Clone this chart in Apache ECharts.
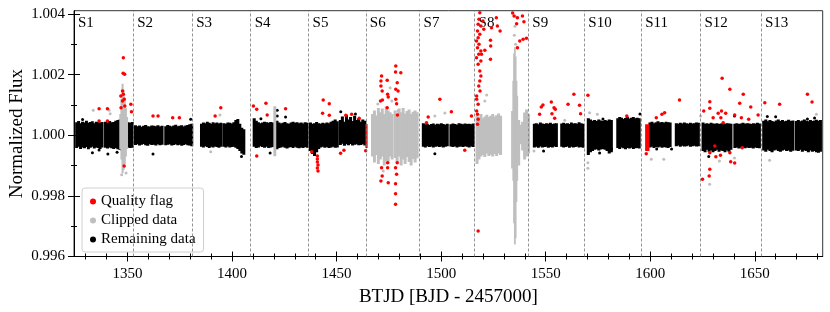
<!DOCTYPE html>
<html><head><meta charset="utf-8">
<script src="https://cdn.jsdelivr.net/npm/echarts@6/dist/echarts.min.js"></script>
<style>html,body{margin:0;padding:0;background:#fff}#c{width:830px;height:312px}</style>
</head><body><div id="c"></div>
<script>
// ---------- DATA (flux values as ppm offsets from 1.000) ----------
const xMajorTicks = [1350, 1400, 1450, 1500, 1550, 1600, 1650];
const xMinorTicks = [1330,1340,1360,1370,1380,1390,1410,1420,1430,1440,1460,1470,1480,1490,1510,1520,1530,1540,1560,1570,1580,1590,1610,1620,1630,1640,1660,1670,1680];
const yMajorTicks = [0.996, 0.998, 1.000, 1.002, 1.004];
const yMinorTicks = [0.997, 0.999, 1.001, 1.003];
const sectorNames = ['S1','S2','S3','S4','S5','S6','S7','S8','S9','S10','S11','S12','S13'];
const sectorBoundaries = [1352.7, 1380.9, 1408.9, 1436.6, 1464.0, 1489.7, 1516.0, 1541.7, 1568.5, 1595.7, 1624.0, 1653.0];

// Remaining data: continuous segments [start, end] with per-bin upper/lower envelope (ppm)
const remainingSegments = [[1325.2,1338.3],[1339.0,1352.7],[1353.3,1367.0],[1367.8,1381.2],[1384.9,1395.1],[1395.6,1406.1],
  [1410.1,1420.0],[1421.0,1436.4],[1437.0,1450.8],[1451.3,1464.0],[1491.0,1503.4],[1504.2,1515.8],
  [1544.1,1555.6],[1557.2,1568.3],[1569.9,1581.9],[1584.0,1595.2],[1599.4,1610.0],[1612.0,1623.5],
  [1624.8,1639.1],[1640.0,1652.7],[1653.8,1668.7],[1669.4,1681.9]];
const remainingHigh = [
  [430,470,400,450,420,480,410,440,460,400,450,430,420,440],
  [450,420,470,430,440,480,500,520,540,500,460,430,410,440],
  [330,300,320,280,310,340,300,290,320,310,300,330,290,310],
  [300,340,310,290,320,350,300,310,330,290,320,340,360,380],
  [380,420,400,450,410,380,430,400,420,390,410],
  [400,380,420,410,390,430,500,540,380,250,200],
  [560,480,430,400,420,450,430,410,440,420],
  [480,420,390,410,440,400,380,420,450,410,430,400,420,390,430,410],
  [420,380,400,440,400,380,410,390,420,400,450,480,520,460],
  [500,620,450,680,520,600,470,640,500,560,450,520,480],
  [400,360,380,340,370,390,350,380,360,400,370,350,380],
  [360,390,370,350,400,380,360,390,370,380,360,390],
  [380,400,360,420,390,370,400,380,410,370,390,400],
  [390,410,380,400,370,420,390,400,380,430,400,380],
  [560,520,480,500,470,520,490,470,500,480,520,500],
  [560,600,580,540,570,590,550,580,600,560,580,560],
  [420,450,400,430,460,420,440,410,450,430,420],
  [400,380,410,390,420,400,380,410,390,400,420,410],
  [420,380,400,370,410,390,380,400,370,390,410,380,400,390,380],
  [380,400,370,390,410,380,400,390,370,400,380,410,390],
  [480,520,460,500,470,450,490,520,470,500,460,480,510,470,490],
  [470,500,460,490,520,480,460,500,470,490,510,480,500]];
const remainingLow = [
  [-420,-380,-450,-400,-430,-390,-460,-410,-380,-440,-400,-420,-450,-400],
  [-410,-440,-400,-430,-450,-420,-460,-480,-500,-470,-440,-400,-420,-410],
  [-320,-300,-340,-310,-290,-330,-350,-300,-320,-310,-340,-300,-330,-310],
  [-330,-310,-300,-340,-320,-300,-330,-310,-350,-320,-300,-330,-340,-360],
  [-380,-400,-360,-390,-420,-380,-400,-370,-390,-410,-380],
  [-380,-400,-370,-400,-390,-380,-410,-450,-520,-600,-640],
  [-380,-420,-400,-360,-390,-410,-380,-420,-400,-390],
  [-460,-420,-400,-380,-410,-440,-400,-390,-420,-380,-410,-430,-400,-420,-390,-410],
  [-520,-620,-680,-560,-450,-400,-380,-410,-390,-420,-400,-380,-410,-400],
  [-320,-280,-350,-300,-330,-290,-340,-310,-300,-330,-320,-300,-340],
  [-380,-400,-360,-390,-370,-400,-380,-360,-390,-370,-400,-380,-360],
  [-370,-390,-360,-400,-380,-370,-390,-360,-380,-400,-370,-390],
  [-400,-380,-410,-370,-400,-390,-380,-410,-390,-400,-370,-390],
  [-380,-400,-390,-370,-410,-380,-400,-390,-370,-400,-390,-410],
  [-650,-560,-520,-480,-460,-500,-470,-450,-480,-520,-600,-560],
  [-420,-450,-400,-430,-460,-420,-440,-410,-450,-430,-420,-440],
  [-400,-380,-420,-390,-400,-380,-410,-390,-400,-420,-390],
  [-360,-340,-380,-350,-370,-360,-340,-380,-360,-350,-370,-360],
  [-520,-560,-480,-540,-500,-560,-520,-480,-540,-500,-520,-560,-500,-540,-480],
  [-420,-400,-440,-410,-390,-430,-400,-420,-410,-440,-400,-420,-430],
  [-500,-540,-480,-520,-560,-500,-480,-520,-540,-500,-480,-520,-500,-540,-510],
  [-500,-520,-480,-540,-500,-520,-560,-500,-540,-520,-560,-580,-540]];

// Clipped data segments
const clippedSegments = [[1346.3,1350.0],[1420.0,1420.9],[1466.7,1477.0],[1477.5,1489.0],[1516.7,1528.9],
  [1533.7,1534.3],[1534.3,1536.6],[1536.6,1542.3]];
const clippedHigh = [
  [700,1200,1700,1500,1250,900,600],
  [960],
  [700,820,650,900,760,880,700,950,820,760,700],
  [820,700,880,760,900,720,800,850,700,780,820,760],
  [650,600,700,560,620,680,600,640,700,620,660,720,640],
  [800],
  [1800,2700,2900,2600,1800,1300],
  [500,350,450,750,850,700]];
const clippedLow = [
  [-450,-800,-1250,-1150,-950,-700,-450],
  [-690],
  [-700,-900,-650,-950,-800,-700,-1000,-850,-950,-700,-800],
  [-750,-900,-700,-1000,-800,-950,-720,-880,-1000,-780,-900,-760],
  [-950,-800,-700,-650,-720,-600,-680,-640,-700,-620,-680,-600,-650],
  [-1100],
  [-1500,-2900,-3600,-3400,-2200,-1500],
  [-1000,-300,-500,-800,-700,-600]];

// Quality-flagged continuous blocks
const qualitySegments = [[1464.0,1464.6],[1597.8,1599.4]];
const qualityHigh = [[370],[360]];
const qualityLow = [[-420],[-520]];

// Individual points [time, ppm]
const qualityPoints = [[1348.0,2558],[1347.9,2043],[1348.6,2010],[1347.6,1459],[1348.0,1350],[1346.8,1294],[1348.4,1185],[1347.6,1129],[1348.7,964],[1346.9,908],[1351.6,1020],[1351.9,776],[1336.4,875],[1340.4,875],[1336.4,469],[1340.4,469],[1362.2,634],[1364.6,634],[1371.6,578],[1374.8,578],[1348.4,-1016],[1391.9,634],[1394.6,908],
 [1410.2,964],[1411.8,855],[1416.2,1053],[1416.8,667],[1425.6,875],[1411.8,-686],
 [1443.6,1162],[1446.5,1040],[1443.3,723],[1446.5,657],[1457.2,690],[1454.4,657],[1460.8,558],[1438.1,-545],[1440.8,-686],[1440.8,-785],[1440.8,-884],[1441.1,-983],[1440.8,-1082],[1441.1,-1181],[1451.9,-597],[1453.5,-498],[1463.9,-512],
 [1471.5,1954],[1471.2,1789],[1471.2,1624],[1471.8,1459],[1471.0,1129],[1471.9,1162],[1474.2,1812],[1474.4,1350],[1474.7,1261],[1474.2,908],[1478.3,2284],[1480.7,2063],[1478.2,2086],[1479.0,1733],[1478.3,1515],[1479.4,1459],[1478.3,1185],[1478.7,1040],[1479.1,667],[1471.5,-1073],[1471.8,-1346],[1471.2,-1511],[1474.4,-1073],[1474.7,-1568],[1478.2,-1073],[1478.7,-1290],[1478.2,-1601],[1478.2,-1931],[1478.2,-2280],[1479.0,-908],[1474.4,-908],
 [1499.4,1185],[1493.8,601],[1504.9,776],[1514.5,634],[1511.3,-498],[1493.0,413],
 [1518.5,4043],[1518.1,3825],[1517.7,3660],[1519.0,3604],[1517.4,3439],[1518.5,3330],[1517.7,3218],[1516.9,3109],[1518.1,3000],[1517.4,2888],[1519.0,2779],[1518.0,2670],[1516.9,2558],[1519.0,2449],[1517.7,2340],[1518.5,2119],[1519.0,1954],[1518.5,1789],[1518.0,1624],[1518.6,1459],[1517.0,1294],[1517.0,1185],[1517.7,1020],[1517.0,799],[1517.4,690],[1517.7,525],[1517.4,360],
 [1520.0,3769],[1520.4,3495],[1524.1,3548],[1526.4,3878],[1526.9,3604],[1528.2,3439],[1523.6,3132],[1523.7,2944],[1520.9,2802],[1523.6,2505],[1519.3,2670],[1517.7,-3161],
 [1534.9,3934],[1536.5,3878],[1538.9,3934],[1539.6,3746],[1536.1,3680],[1537.6,3109],[1536.5,2888],[1540.8,3198],[1539.2,3165],[1534.2,4033],
 [1547.1,690],[1547.9,931],[1548.7,997],[1553.0,710],[1552.7,1096],[1554.0,908],[1554.6,855],[1554.3,558],[1560.7,1020],[1563.5,1350],[1566.2,987],[1566.7,710],[1570.2,1317],
 [1588.8,634],[1598.1,-611],[1602.9,578],[1605.6,690],[1606.9,743],[1614.0,1162],
 [1625.6,799],[1628.5,1106],[1628.5,888],[1634.4,1878],[1638.1,1515],[1644.5,1350],[1642.8,1053],[1648.1,931],[1634.1,799],[1632.5,723],[1636.1,723],[1630.1,578],[1633.8,578],[1634.9,413],[1640.4,667],[1643.6,578],[1647.1,525],[1651.6,667],[1644.0,-413],[1628.5,-578],[1630.9,-356],[1631.4,-710],[1633.6,-663],[1638.1,-578],[1638.5,-875],[1640.4,-917],[1628.5,-1125],[1628.2,-1346],[1625.0,-1455],
 [1654.8,1073],[1661.9,1020],[1675.2,1350],[1677.4,1096]];
const clippedPoints = [[1333.6,822],[1341.7,710],[1341.2,822],[1389.8,-545],[1394.2,667],[1349.3,-1247],[1347.2,-1300],[1520.9,1129],[1544.4,-521],[1570.2,-908],[1570.2,-1092],[1600.5,-795],[1606.5,-795],[1574.7,690],[1571.0,743],[1559.1,492],[1657.1,-828],[1628.4,-1620],[1633.1,-851],[1640.3,-752],[1624.1,634],[1679.5,690],[1475.6,1568],[1479.3,799],[1469.7,1030],[1476.4,1129],[1472.3,-1181],[1497.0,634],[1501.8,733],[1521.8,1327],[1535.0,3300],[1535.3,3600],[1535.6,3000],[1536.0,3900]];
const remainingPoints = [[1333.2,-578],[1336.4,-488],[1380.2,525],[1421.6,822],[1421.6,634],[1425.6,601],[1413.8,545],[1362.2,-620],[1340.6,-620],[1418.2,-587],[1497.0,-610],[1575.8,-587],[1581.5,-455],[1595.1,700],[1577.4,535],[1640.3,634],[1662.9,-455],[1678.6,568],[1675.2,535],[1603.1,-455],[1610.2,-455],[1328.5,520],[1345.0,-560],[1404.5,-700],[1452.0,780],[1459.0,700],[1549.0,-520],[1589.0,590],[1656.0,620],[1628.0,-700],[1660.0,610]];

// ---------- BUILD ----------
const toFlux = p => 1 + p * 1e-6;
function buildRects(segs, hi, lo) {
  const out = [];
  segs.forEach((s, i) => {
    const n = hi[i].length, w = (s[1] - s[0]) / n;
    for (let j = 0; j < n; j++) out.push([s[0] + j * w, s[0] + (j + 1) * w, toFlux(lo[i][j]), toFlux(hi[i][j])]);
  });
  return out;
}
const pts = arr => arr.map(p => [p[0], toFlux(p[1])]);

const FONT = 'Liberation Serif';
const X_MIN = 1324.4, X_MAX = 1682.5, Y_MIN = 0.996, Y_MAX = 1.00411;

function bandSeries(name, rects, color, z) {
  return {
    type: 'custom', name, z, silent: true, clip: true,
    itemStyle: { color },
    encode: { x: [0, 1], y: [2, 3] },
    renderItem: (params, api) => {
      const a = api.coord([api.value(0), api.value(3)]);
      const b = api.coord([api.value(1), api.value(2)]);
      return { type: 'rect', shape: { x: a[0] - 0.5, y: a[1], width: Math.max(b[0] - a[0], 0.6) + 1, height: b[1] - a[1] },
        style: { fill: color } };
    },
    data: rects
  };
}

function xAx(ticks, len, inside, labels, extra) {
  return Object.assign({
    type: 'value', min: X_MIN, max: X_MAX, position: 'bottom',
    axisLine: { show: labels, lineStyle: { color: '#000', width: 1 } },
    axisTick: { show: true, inside, length: len, customValues: ticks, lineStyle: { color: '#000', width: 1 } },
    axisLabel: { show: labels, customValues: ticks, fontFamily: FONT, fontSize: 15, color: '#000', margin: 10,
      formatter: v => String(Math.round(v)) },
    splitLine: { show: false }
  }, extra || {});
}
function yAx(ticks, len, inside, labels, extra) {
  return Object.assign({
    type: 'value', min: Y_MIN, max: Y_MAX, position: 'left',
    axisLine: { show: labels, lineStyle: { color: '#000', width: 1 } },
    axisTick: { show: true, inside, length: len, customValues: ticks, lineStyle: { color: '#000', width: 1 } },
    axisLabel: { show: labels, customValues: ticks, fontFamily: FONT, fontSize: 15, color: '#000', margin: 9,
      formatter: v => v.toFixed(3) },
    splitLine: { show: false }
  }, extra || {});
}

const chart = echarts.init(document.getElementById('c'), null, { renderer: 'canvas' });
chart.setOption({
  animation: false,
  backgroundColor: '#fff',
  grid: { left: 74, right: 7.3, top: 10.7, bottom: 55.5, show: true, borderColor: '#333', borderWidth: 1, outerBoundsMode: 'none' },
  xAxis: [
    xAx(xMajorTicks, 5, false, true, { name: 'BTJD [BJD - 2457000]', nameLocation: 'middle', nameGap: 31,
      nameTextStyle: { fontFamily: FONT, fontSize: 19, color: '#000' } }),
    xAx(xMajorTicks, 5, true, false),
    xAx(xMinorTicks, 3, false, false),
    xAx(xMinorTicks, 3, true, false)
  ],
  yAxis: [
    yAx(yMajorTicks, 6, false, true, { name: 'Normalized Flux', nameLocation: 'middle', nameGap: 47, nameRotate: 90,
      nameMoveOverlap: false,
      nameTextStyle: { fontFamily: FONT, fontSize: 19, color: '#000' } }),
    yAx(yMajorTicks, 6, true, false),
    yAx(yMinorTicks, 3, false, false),
    yAx(yMinorTicks, 3, true, false)
  ],
  legend: {
    orient: 'vertical', left: 82, top: 188, itemWidth: 6, itemHeight: 6, itemGap: 4,
    padding: [6, 8, 5, 8], backgroundColor: '#fff', borderColor: '#d0d0d0', borderWidth: 1, borderRadius: 3,
    textStyle: { fontFamily: FONT, fontSize: 15, color: '#000', padding: [0, 0, 0, 0] },
    data: [
      { name: 'Quality flag', icon: 'circle', itemStyle: { color: '#ff0000', opacity: 1 } },
      { name: 'Clipped data', icon: 'circle', itemStyle: { color: '#bfbfbf', opacity: 1 } },
      { name: 'Remaining data', icon: 'circle', itemStyle: { color: '#000000', opacity: 1 } }
    ]
  },
  series: [
    {
      type: 'scatter', name: 'sectors', symbolSize: 0, z: 1, silent: true, clip: false,
      itemStyle: { opacity: 1 },
      data: [X_MIN].concat(sectorBoundaries).map((v, i) => ({ value: [v, 1.0037], name: sectorNames[i] })),
      label: { show: true, position: 'right', distance: 4, formatter: p => p.name,
        fontFamily: FONT, fontSize: 15, color: '#000', opacity: 1 },
      markLine: {
        silent: true, symbol: ['none', 'none'], label: { show: false },
        lineStyle: { color: '#777', width: 0.8, type: [3, 2], opacity: 1 },
        data: sectorBoundaries.map(v => ({ xAxis: v }))
      }
    },
    bandSeries('Remaining data', buildRects(remainingSegments, remainingHigh, remainingLow), '#000', 2),
    { type: 'scatter', name: 'Remaining data', symbolSize: 3, z: 2, itemStyle: { color: '#000', opacity: 1 }, data: pts(remainingPoints) },
    bandSeries('Clipped data', buildRects(clippedSegments, clippedHigh, clippedLow), '#bfbfbf', 3),
    { type: 'scatter', name: 'Clipped data', symbolSize: 3, z: 3, itemStyle: { color: '#bfbfbf', opacity: 1 }, data: pts(clippedPoints) },
    bandSeries('Quality flag', buildRects(qualitySegments, qualityHigh, qualityLow), '#ff0000', 4),
    { type: 'scatter', name: 'Quality flag', symbolSize: 3.5, z: 4, itemStyle: { color: '#ff0000', opacity: 1 }, data: pts(qualityPoints) }
  ]
});
</script></body></html>
